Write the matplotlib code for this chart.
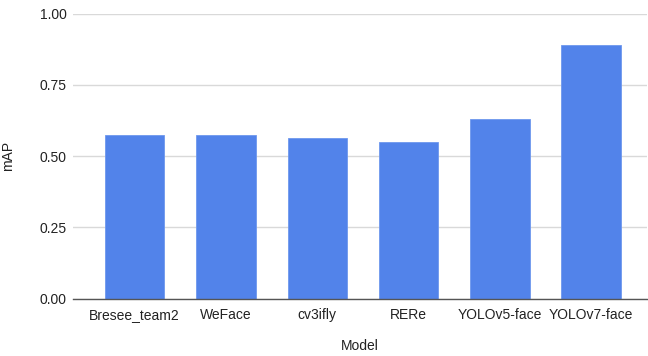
import matplotlib
matplotlib.use("Agg")
import matplotlib.pyplot as plt
from matplotlib.ticker import FixedLocator, FormatStrFormatter

models = ["Bresee_team2", "WeFace", "cv3ifly", "RERe", "YOLOv5-face", "YOLOv7-face"]
map_scores = [0.574, 0.574, 0.562, 0.549, 0.631, 0.888]
y_ticks = [0.00, 0.25, 0.50, 0.75, 1.00]

plt.rcParams["font.family"] = ["Liberation Sans", "DejaVu Sans"]

fig = plt.figure(figsize=(6.48, 3.56), dpi=100)
ax = fig.add_axes([0.1127, 0.161, 0.886, 0.801])

x = list(range(len(models)))
ax.bar(x, map_scores, width=0.65, color="#5283EA", edgecolor="#6E98EE",
       linewidth=0.6, zorder=3)

ax.set_ylim(0, 1.0)
ax.set_xlim(-0.676, 5.614)
ax.yaxis.set_major_locator(FixedLocator(y_ticks))
ax.yaxis.set_major_formatter(FormatStrFormatter("%.2f"))
ax.set_xticks(x)
ax.set_xticklabels(models)

ax.grid(axis="y", color="#D9D9D9", linewidth=1.0, zorder=0)
for side in ["top", "right", "left"]:
    ax.spines[side].set_visible(False)
ax.spines["bottom"].set_color("#555555")
ax.spines["bottom"].set_linewidth(1.0)
ax.spines["bottom"].set_zorder(4)

ax.tick_params(axis="both", length=0, labelsize=10, colors="#222222")
ax.tick_params(axis="x", pad=7)
ax.tick_params(axis="y", pad=4.5)

ax.set_xlabel("Model", fontsize=10, color="#222222")
ax.xaxis.set_label_coords(0.5, -0.143)
ax.set_ylabel("mAP", fontsize=10, color="#222222")
ax.yaxis.set_label_coords(-0.101, 0.5)

fig.savefig("out.png", dpi=100)
